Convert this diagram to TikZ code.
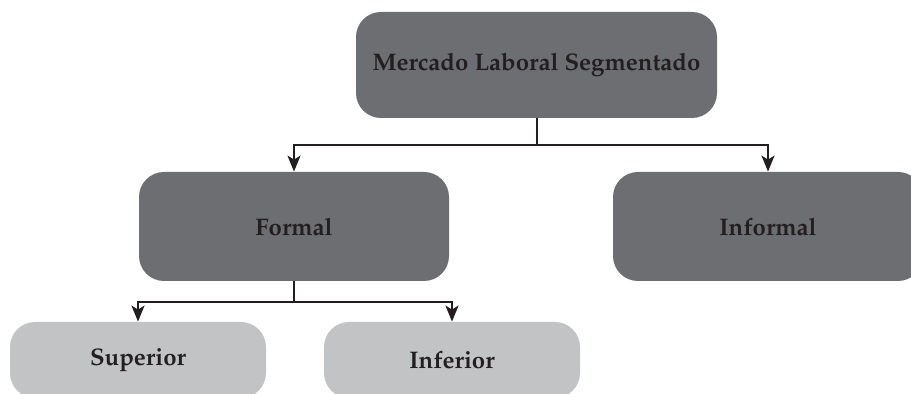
\documentclass[tikz,border=0pt]{standalone}
\usepackage[T1]{fontenc}
\renewcommand{\rmdefault}{ppl}
\usepackage{xcolor}
\usepackage{tikz}
\usetikzlibrary{positioning,arrows.meta}
\definecolor{boxdark}{HTML}{6D6E71}
\definecolor{boxlight}{HTML}{C2C3C5}
\definecolor{ink}{HTML}{231F20}
\tikzset{
  box/.style={rounded corners=12.5pt, text=ink, inner sep=0pt,
    font=\fontsize{12}{14}\selectfont\bfseries,
    minimum width=155pt, minimum height=54.5pt},
  mainbox/.style={box, fill=boxdark},
  subbox/.style={box, fill=boxlight, minimum width=128pt, minimum height=38pt},
  link/.style={draw=ink, line width=1pt, -{Stealth[length=8pt,width=6.5pt,inset=2pt]}}
}

\begin{document}
\begin{tikzpicture}[x=0.5pt,y=-0.5pt]
    \useasboundingbox (0,0) rectangle (911,394);
    \clip (0,0) rectangle (911,394);

    % Top level
    \node[mainbox, minimum width=180.5pt, minimum height=53pt] (mercado) at (536.5,65) {Mercado Laboral Segmentado};

    % Second level
    \node[mainbox] (formal) at (294,226.5) {Formal};
    \node[mainbox] (informal) at (768,226.5) {Informal};

    % Third level
    \node[subbox] (superior) at (138,360) {Superior};
    \node[subbox] (inferior) at (452,360) {Inferior};

    % Connectors
    \coordinate (split1) at (mercado.south |- 0,145);
    \draw[link] (mercado.south) -- (split1) -| (formal.north);
    \draw[link] (split1) -| (informal.north);
    \coordinate (split2) at (formal.south |- 0,302);
    \draw[link] (formal.south) -- (split2) -| (superior.north);
    \draw[link] (split2) -| (inferior.north);

\end{tikzpicture}
\end{document}
